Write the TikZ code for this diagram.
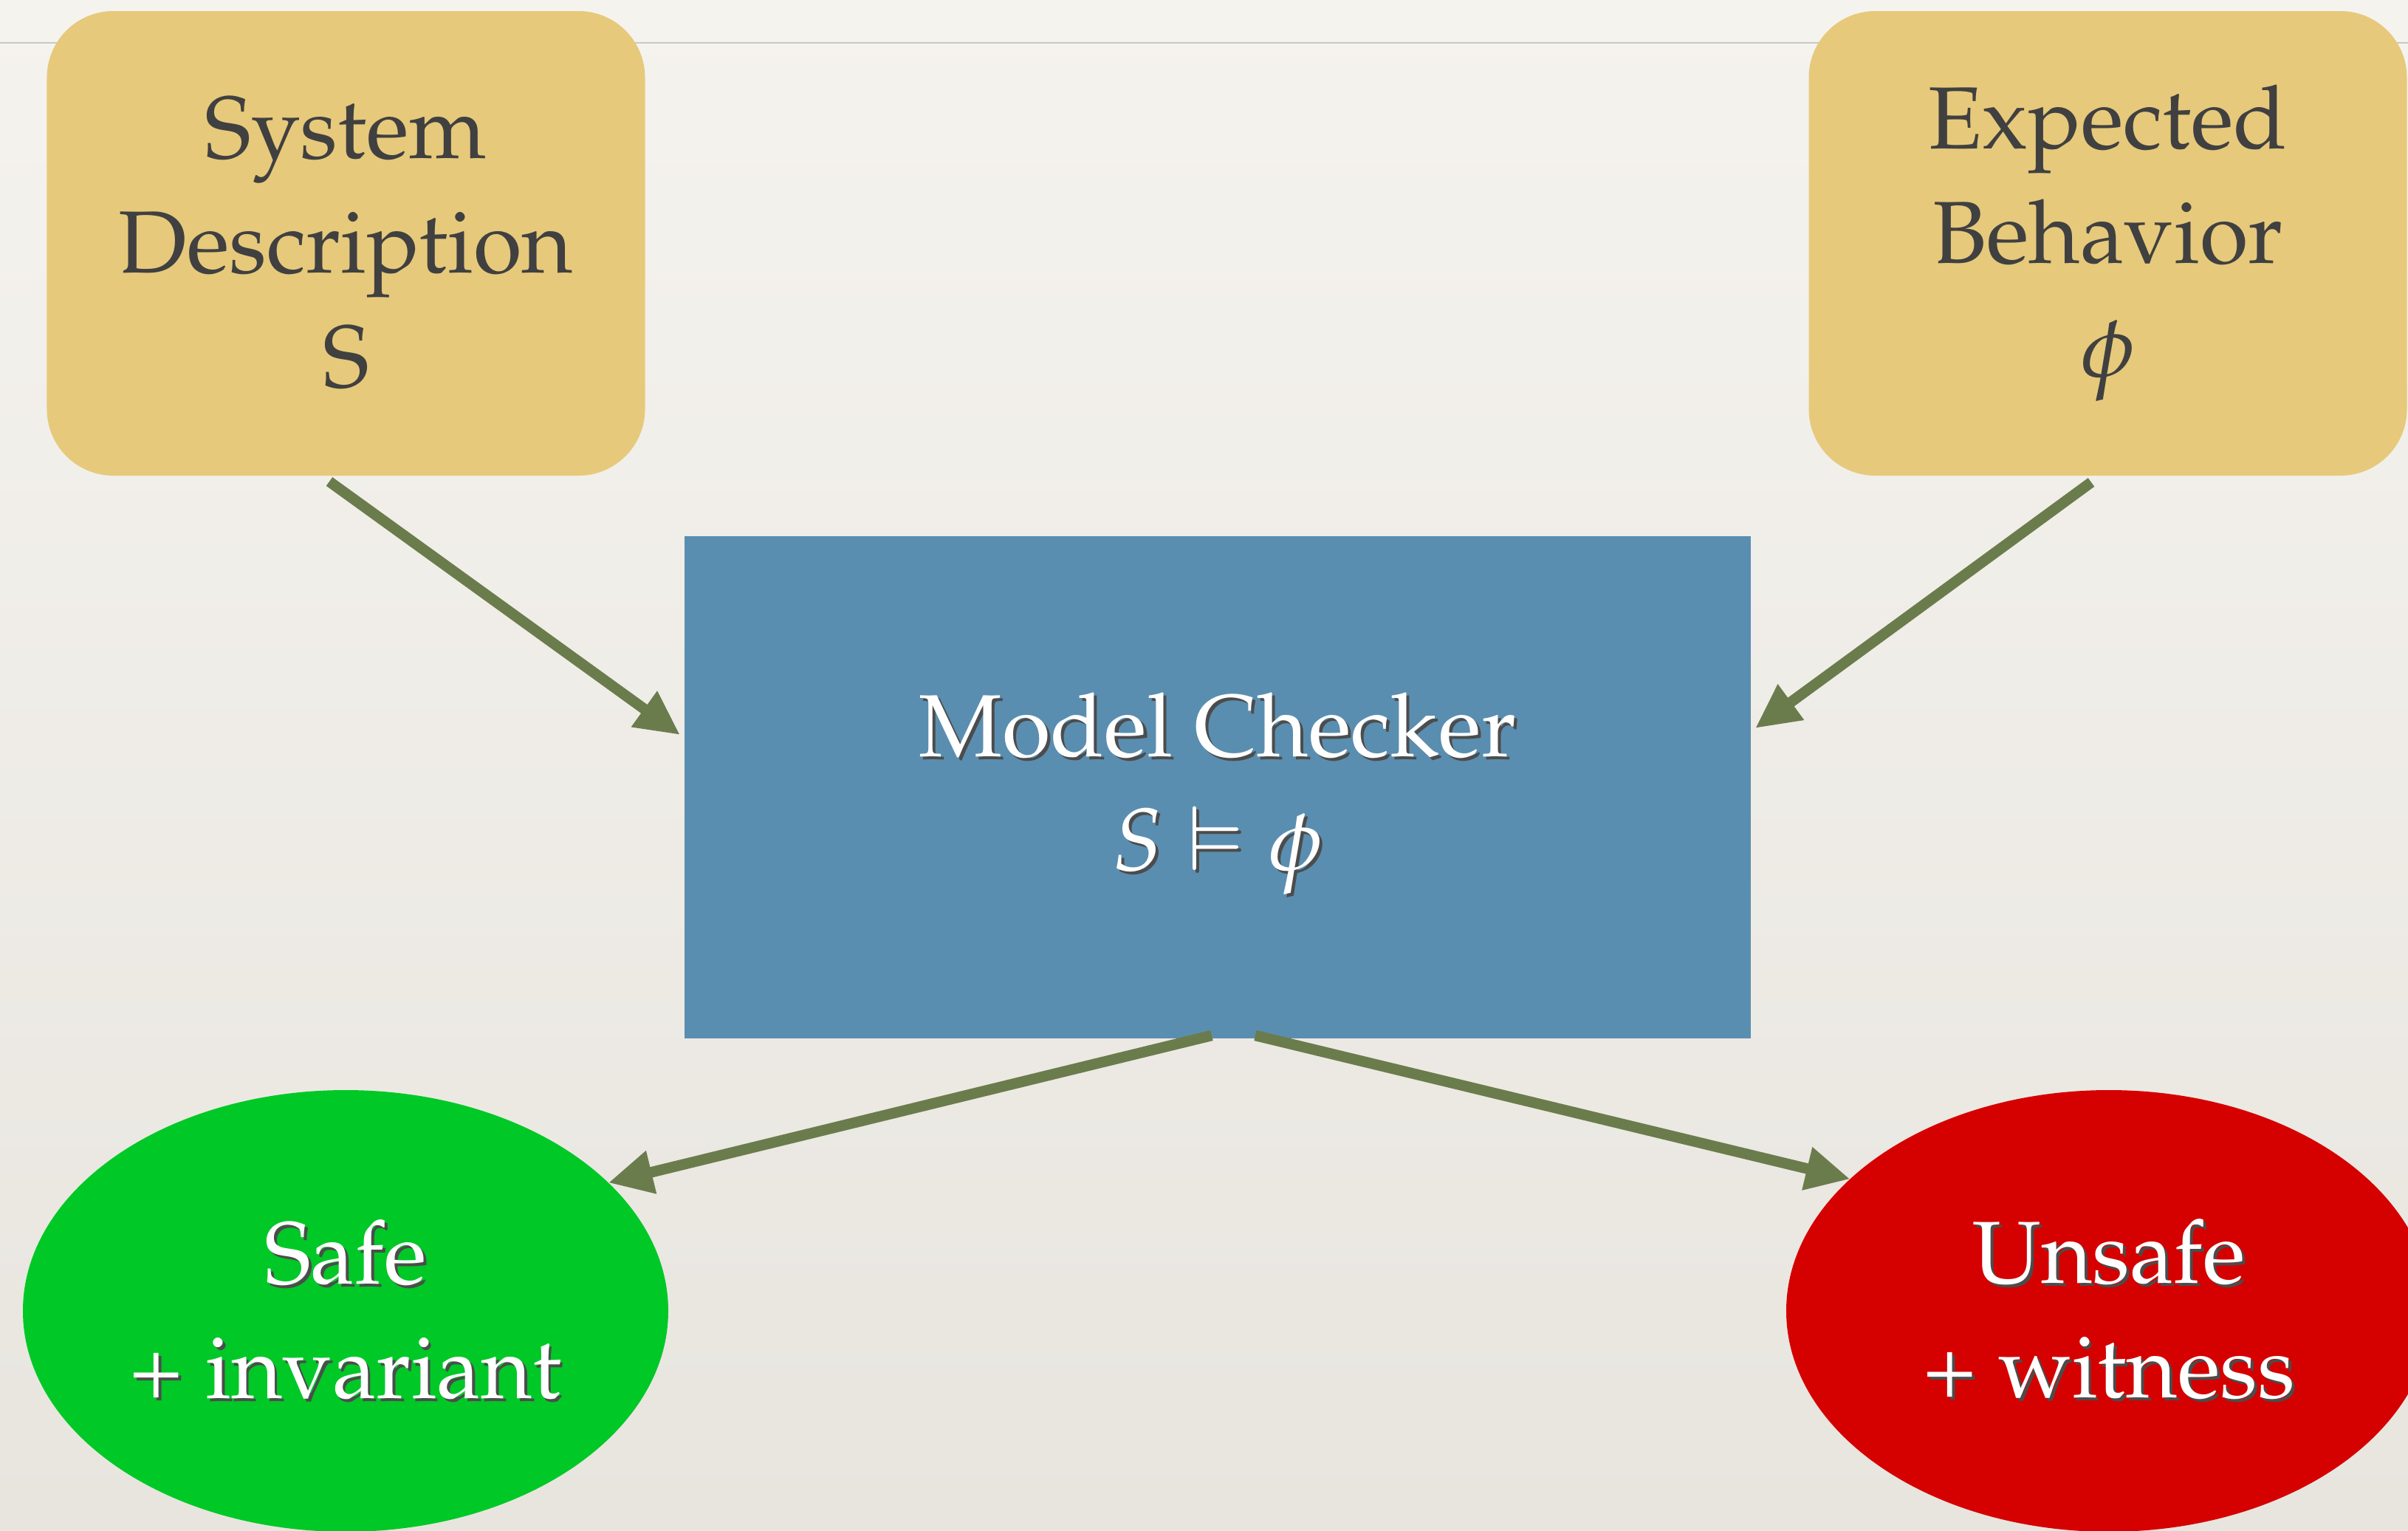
\documentclass[tikz,border=0pt]{standalone}
\usepackage[T1]{fontenc}
\usepackage{mathpazo}
\usepackage{amssymb}
\usepackage{xcolor}
\usetikzlibrary{arrows.meta, shapes.geometric}

\definecolor{paperTop}{RGB}{245,243,238}
\definecolor{paperBot}{RGB}{232,229,223}
\definecolor{sand}{RGB}{230,201,123}
\definecolor{ink}{RGB}{64,64,64}
\definecolor{steel}{RGB}{90,142,176}
\definecolor{okgreen}{RGB}{0,200,38}
\definecolor{badred}{RGB}{213,0,0}
\definecolor{arrowgreen}{RGB}{107,124,76}
\definecolor{rulegray}{RGB}{200,200,200}

\newcommand{\shadowed}[1]{\leavevmode\rlap{\kern0.04cm\raisebox{-0.04cm}{\color{black!70}#1}}#1}

\begin{document}
\begin{tikzpicture}[
  every node/.style={outer sep=0pt, inner sep=0pt},
  bigtext/.style={font=\fontsize{34}{44}\selectfont, align=center},
  inbox/.style={bigtext, rectangle, rounded corners=0.9cm, fill=sand, text=ink,
    minimum width=8.1cm, minimum height=6.29cm},
  checker/.style={bigtext, rectangle, fill=steel, text=white,
    minimum width=14.44cm, minimum height=6.8cm},
  verdict/.style={bigtext, ellipse, text=white, minimum width=8.74cm, minimum height=5.98cm},
  flow/.style={draw=arrowgreen, line width=0.145cm, -{Triangle[length=0.6cm, width=0.56cm]}}
]
\useasboundingbox (0,0) rectangle (32.61,-20.72);
\clip (0,0) rectangle (32.61,-20.72);
\shade[top color=paperTop, bottom color=paperBot] (0,0) rectangle (32.61,-20.72);
\draw[rulegray, line width=0.02cm] (0,-0.58) -- (32.61,-0.58);

\node[inbox] (sys) at (4.685,-3.295) {System\\Description\\S};
\node[inbox] (spec) at (28.545,-3.295) {Expected\\Behavior\\$\phi$};
\node[checker, text depth=4.5pt] (mc) at (16.49,-10.66) {\shadowed{Model Checker}\\\shadowed{$S\vDash\phi$}};
\node[verdict, fill=okgreen] (safe) at (4.68,-17.75) {\shadowed{Safe}\\\shadowed{+ invariant}};
\node[verdict, fill=badred] (unsafe) at (28.56,-17.75) {\shadowed{Unsafe}\\\shadowed{+ witness}};

\draw[flow] ([xshift=-0.225cm, yshift=-0.08cm]sys.south) -- ([xshift=-0.06cm, yshift=0.71cm]mc.west);
\draw[flow] ([xshift=-0.225cm, yshift=-0.09cm]spec.south) -- ([xshift=0.06cm, yshift=0.8cm]mc.east);
\draw[flow] ([xshift=-0.08cm, yshift=0.04cm]mc.south) -- (safe.26);
\draw[flow] ([xshift=0.51cm, yshift=0.04cm]mc.south) -- (unsafe.153);
\end{tikzpicture}
\end{document}
